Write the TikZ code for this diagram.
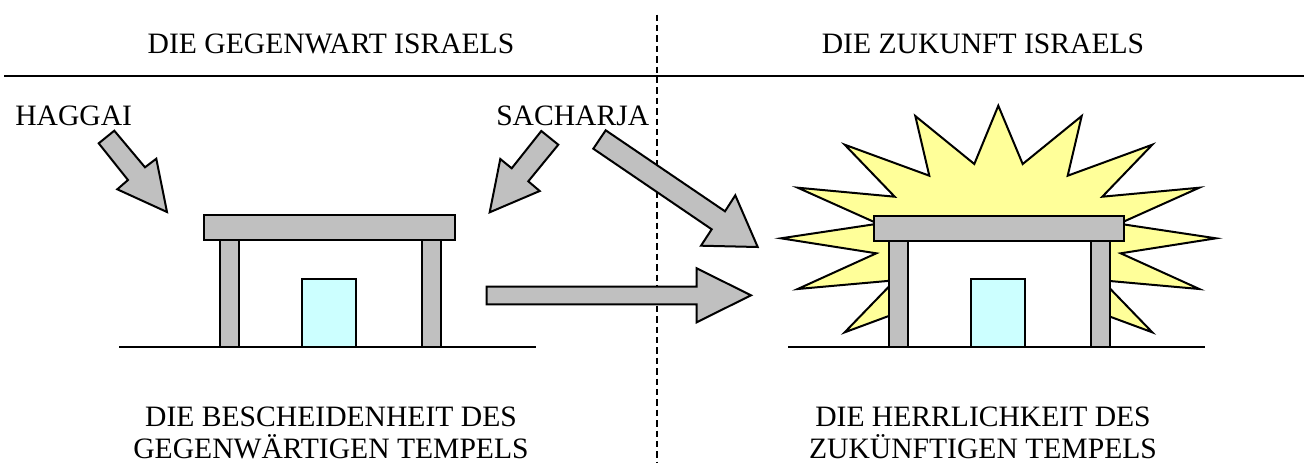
\documentclass[tikz,border=0pt]{standalone}
\usepackage{fontspec}
\setmainfont{Liberation Serif}
\tikzset{
  px/.style={x=0.75pt,y=-0.75pt},
  part/.style={draw=black,line width=1.5pt,line join=miter},
  grayp/.style={part,fill=graybar},
  door/.style={part,line width=1.3pt,fill=doorblue},
  rule/.style={draw=black,line width=1.5pt},
  txt/.style={inner sep=0pt,font=\fontsize{22.2}{24.3}\selectfont,text=black,align=center},
}
\definecolor{graybar}{RGB}{192,192,192}
\definecolor{doorblue}{RGB}{204,255,255}
\definecolor{burst}{RGB}{255,255,153}
\begin{document}
\begin{tikzpicture}[px]
\useasboundingbox (0,0) rectangle (1304,462);
\fill[white] (0,0) rectangle (1304,462);
% dividers
\draw[draw=black,line width=1.5pt,dash pattern=on 4.9pt off 2.9pt] (656.9,14.5) -- (656.9,462);
\draw[rule] (4,75.7) -- (1304,75.7);
% texts
\node[txt] (t1) at (331,44) {DIE GEGENWART ISRAELS};
\node[txt] (t2) at (983,44) {DIE ZUKUNFT ISRAELS};
\node[txt,anchor=base west] (t3) at (15,125) {HAGGAI};
\node[txt,anchor=base west] (t4) at (496,125) {SACHARJA};
\node[txt] (t5) at (331,433) {DIE BESCHEIDENHEIT DES\\GEGENWÄRTIGEN TEMPELS};
\node[txt] (t6) at (983,433) {DIE HERRLICHKEIT DES\\ZUKÜNFTIGEN TEMPELS};
% arrows
\draw[grayp] (114.3,130.7)--(98.7,143.3)--(128,180)--(117.3,189.3)--(167,212)--(156.3,158.7)--(145,167.3)--cycle;
\draw[grayp] (541.3,131)--(558.3,144.7)--(528.3,181.3)--(539.7,191)--(489.7,212.3)--(500.3,159)--(511.7,168.3)--cycle;
\draw[grayp] (605.7,130.3)--(593.3,148.7)--(711.7,229.3)--(701,245.7)--(757.7,247)--(735.3,195.3)--(725,211.3)--cycle;
\draw[grayp] (486.7,286.7)--(486.7,304.3)--(696.7,304.3)--(696.7,322.3)--(751,295.3)--(696.7,268.3)--(696.7,286.7)--cycle;
% burst
\draw[part,fill=burst] (998.3,105.7)--(1022.7,164)--(1081.7,116)--(1067.7,175.7)--(1152.3,144.7)--(1102.3,196.7)--(1199.3,187.7)--(1119,223.7)--(1216,238.3)--(1120.7,253.3)--(1199.3,289)--(1102,280.3)--(1152.3,332.3)--(1067.7,301)
 --(929.3,301)--(844.7,332.3)--(895,280.3)--(797.7,289)--(876.3,253.3)--(781,238.3)--(878,223.7)--(797.7,187.7)--(894.7,196.7)--(844.7,144.7)--(929.3,175.7)--(915.3,116)--(974.3,164)--cycle;
\fill[white] (900,240) rectangle (1100,347);
% left house
\draw[rule] (119.3,346.7) -- (536,346.7);
\draw[grayp] (219.7,240) rectangle (238.7,346.7);
\draw[grayp] (421.7,240) rectangle (440.7,347.3);
\draw[grayp] (204.3,215.3) rectangle (455.3,240);
\draw[door] (302,278.7) rectangle (355.7,346.7);
% right house
\draw[rule] (788.3,347.3) -- (1205,347.3);
\draw[grayp] (888.7,240.7) rectangle (907.7,347.3);
\draw[grayp] (1090.7,240.7) rectangle (1109.7,347.3);
\draw[grayp] (873.7,216) rectangle (1124.3,240.7);
\draw[door] (971,279) rectangle (1024.7,347.3);
\end{tikzpicture}
\end{document}
